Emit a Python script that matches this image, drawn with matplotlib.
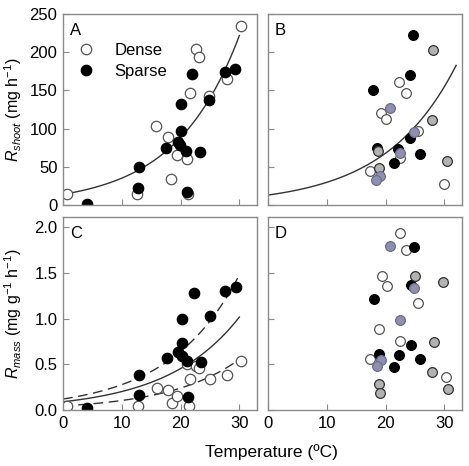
import numpy as np
import matplotlib
matplotlib.use("Agg")
import matplotlib.pyplot as plt

plt.rcParams['font.family'] = ['Liberation Sans', 'DejaVu Sans']
plt.rcParams['mathtext.fontset'] = 'custom'
plt.rcParams['mathtext.rm'] = 'Liberation Sans'
plt.rcParams['mathtext.it'] = 'Liberation Sans:italic'

# panel A - shoot respiration
a_dense_t = [0.6, 12.6, 15.8, 17.8, 18.4, 19.4, 21.1, 21.3, 21.6, 22.7, 23.1, 24.8, 27.9, 30.2]
a_dense_r = [14, 15, 103, 89, 34, 65, 60, 15, 146, 204, 194, 143, 165, 234]
a_sparse_t = [4.1, 12.8, 12.9, 17.5, 19.6, 19.9, 20.1, 20.1, 21.0, 21.1, 21.9, 23.3, 24.9, 27.6, 29.3]
a_sparse_r = [1, 22, 50, 75, 83, 79, 97, 132, 71, 17, 171, 70, 137, 174, 178]

# panel B
b_open_t = [22.3, 23.4, 19.3, 20.1, 25.6, 22.5, 17.3, 30.0]
b_open_r = [161, 146, 121, 113, 97, 61, 44, 27]
b_black_t = [24.6, 24.2, 17.9, 24.2, 18.6, 22.1, 25.8, 21.4]
b_black_r = [222, 170, 150, 88, 75, 73, 67, 55]
b_grey_t = [28.1, 27.9, 18.7, 18.9, 30.5]
b_grey_r = [203, 111, 71, 49, 58]
b_purple_t = [20.7, 24.9, 22.4, 19.1, 18.4]
b_purple_r = [127, 95, 68, 38, 33]

# panel C - mass based respiration
c_dense_t = [0.7, 12.8, 16.0, 17.9, 18.5, 19.4, 21.1, 21.5, 21.6, 22.7, 23.1, 25.0, 27.9, 30.3]
c_dense_r = [0.04, 0.04, 0.24, 0.22, 0.08, 0.15, 0.50, 0.04, 0.34, 0.48, 0.46, 0.34, 0.38, 0.54]
c_sparse_t = [4.1, 13.0, 13.0, 17.7, 19.6, 20.2, 20.2, 20.2, 21.1, 21.2, 22.2, 23.5, 25.0, 27.6, 29.5]
c_sparse_r = [0.02, 0.16, 0.38, 0.57, 0.63, 0.59, 0.73, 1.00, 0.54, 0.14, 1.28, 0.53, 1.03, 1.30, 1.34]

# panel D
d_open_t = [22.4, 23.4, 19.4, 20.2, 25.6, 18.9, 22.5, 17.4, 30.2]
d_open_r = [1.93, 1.75, 1.46, 1.36, 1.17, 0.89, 0.75, 0.56, 0.36]
d_black_t = [24.8, 24.4, 18.0, 24.4, 18.8, 22.2, 25.9, 21.5]
d_black_r = [1.78, 1.37, 1.21, 0.71, 0.61, 0.60, 0.56, 0.47]
d_grey_t = [25.0, 29.8, 28.2, 27.9, 18.8, 19.0, 30.6]
d_grey_r = [1.46, 1.40, 0.74, 0.42, 0.28, 0.19, 0.23]
d_purple_t = [20.8, 24.9, 22.4, 19.3, 18.6]
d_purple_r = [1.79, 1.33, 0.98, 0.55, 0.48]

# fitted exponential curves (a, k, tmax)
fit_a = (14, 0.0921, 30)
fit_b = (13, 0.0826, 32)
fit_c_mid = (0.09, 0.0808, 30)
fit_c_hi = (0.12, 0.0837, 29.7)
fit_c_lo = (0.045, 0.0837, 30)

fig = plt.figure(figsize=(4.69, 4.66), dpi=100)
W, H = 469, 466
def box(l, t, r, b):
    return [l / W, 1 - b / H, (r - l) / W, (b - t) / H]

axA = fig.add_axes(box(63, 14, 257, 205))
axB = fig.add_axes(box(268, 14, 462, 205))
axC = fig.add_axes(box(63, 217, 257, 410))
axD = fig.add_axes(box(268, 217, 462, 410))

spine_col = '#8a8a8a'
open_kw = dict(marker='o', ls='none', mfc='white', mec='#555555', mew=0.9)
black_kw = dict(marker='o', ls='none', mfc='black', mec='black', mew=0.9)
grey_kw = dict(marker='o', ls='none', mfc='#b2b2b2', mec='#333333', mew=0.9)
purple_kw = dict(marker='o', ls='none', mfc='#8f8fb0', mec='#6c6c8c', mew=0.9)

def curve(ax, fit, **kw):
    a, k, tmax = fit
    t = np.linspace(0, tmax, 100)
    ax.plot(t, a * np.exp(k * t), color='#333333', lw=1.0, **kw)

curve(axA, fit_a)
axA.plot(a_dense_t, a_dense_r, ms=7.5, label='Dense', **open_kw)
axA.plot(a_sparse_t, a_sparse_r, ms=7.5, label='Sparse', **black_kw)
axA.legend(loc='upper left', bbox_to_anchor=(0.075, 0.85), frameon=False,
           fontsize=12, handletextpad=1.2, labelspacing=0.4, borderaxespad=0,
           handlelength=1.0, borderpad=0)

curve(axB, fit_b)
axB.plot(b_open_t, b_open_r, ms=7, **open_kw)
axB.plot(b_black_t, b_black_r, ms=7, **black_kw)
axB.plot(b_grey_t, b_grey_r, ms=7, **grey_kw)
axB.plot(b_purple_t, b_purple_r, ms=7, **purple_kw)

curve(axC, fit_c_mid)
curve(axC, fit_c_hi, dashes=(7, 4))
curve(axC, fit_c_lo, dashes=(7, 4))
axC.plot(c_dense_t, c_dense_r, ms=7.5, **open_kw)
axC.plot(c_sparse_t, c_sparse_r, ms=7.5, **black_kw)

axD.plot(d_open_t, d_open_r, ms=7, **open_kw)
axD.plot(d_black_t, d_black_r, ms=7, **black_kw)
axD.plot(d_grey_t, d_grey_r, ms=7, **grey_kw)
axD.plot(d_purple_t, d_purple_r, ms=7, **purple_kw)

for ax, lab in zip([axA, axB, axC, axD], ['A', 'B', 'C', 'D']):
    ax.set_xlim(0, 33)
    ax.set_xticks([0, 10, 20, 30])
    for s in ax.spines.values():
        s.set_color(spine_col)
        s.set_linewidth(1.0)
    ax.tick_params(direction='in', length=4, color=spine_col, labelsize=12, pad=4)
    ax.text(0.035, 0.955, lab, transform=ax.transAxes, ha='left', va='top', fontsize=12)

for ax in [axA, axB]:
    ax.set_ylim(0, 250)
    ax.set_yticks([0, 50, 100, 150, 200, 250])
    ax.tick_params(labelbottom=False)
for ax in [axC, axD]:
    ax.set_ylim(0, 2.11)
    ax.set_yticks([0, 0.5, 1.0, 1.5, 2.0])
    ax.set_yticklabels(['0.0', '0.5', '1.0', '1.5', '2.0'])
for ax in [axB, axD]:
    ax.tick_params(labelleft=False)

axA.set_ylabel(r'$R_{shoot}$ (mg h$^{-1}$)', fontsize=11.5)
axC.set_ylabel(r'$R_{mass}$ (mg g$^{-1}$ h$^{-1}$)', fontsize=11.5)
axA.yaxis.set_label_coords(-0.2, 0.5)
axC.yaxis.set_label_coords(-0.2, 0.5)

fig.text(271 / W, 1 - 452 / H, 'Temperature (ºC)', ha='center', va='center', fontsize=12.5)

fig.savefig('out.png', dpi=100)
